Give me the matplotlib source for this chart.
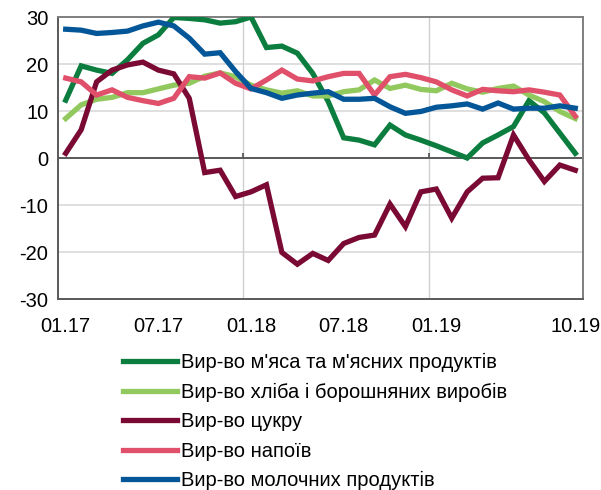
import matplotlib
matplotlib.use("Agg")
import matplotlib.pyplot as plt

plt.rcParams['font.family'] = ['Liberation Sans', 'DejaVu Sans']
plt.rcParams['axes.unicode_minus'] = False

months = ["01.17","02.17","03.17","04.17","05.17","06.17","07.17","08.17","09.17","10.17","11.17","12.17",
          "01.18","02.18","03.18","04.18","05.18","06.18","07.18","08.18","09.18","10.18","11.18","12.18",
          "01.19","02.19","03.19","04.19","05.19","06.19","07.19","08.19","09.19","10.19"]
shown_labels = ["01.17", "07.17", "01.18", "07.18", "01.19", "10.19"]

meat = [12.3, 19.6, 18.7, 18, 20.9, 24.4, 26.2, 29.9, 29.7, 29.4, 28.7, 29, 30, 23.5, 23.8, 22.3,
        18, 12, 4.3, 3.8, 2.8, 7, 4.9, 3.8, 2.6, 1.3, 0, 3.2, 4.9, 6.7, 12.2, 9.6, 5.3, 1]
bread = [8.4, 11.3, 12.5, 12.9, 13.9, 13.9, 14.7, 15.5, 15.9, 17.4, 18.1, 17.3, 15.5, 14.5, 13.8, 14.3,
         13.2, 13.2, 14.1, 14.5, 16.6, 14.8, 15.5, 14.6, 14.3, 15.9, 14.7, 14, 14.8, 15.3, 13.4, 12, 9.9, 8.4]
sugar = [1, 6, 16.2, 18.7, 19.8, 20.4, 18.7, 17.9, 12.7, -3.1, -2.6, -8.2, -7.2, -5.7, -20.1, -22.6,
         -20.3, -21.8, -18.2, -16.9, -16.4, -9.8, -14.6, -7.2, -6.6, -12.8, -7.2, -4.3, -4.2, 4.9, -0.4, -5, -1.5, -2.6]
drinks = [17, 16.2, 13.4, 14.5, 12.9, 12.2, 11.6, 12.7, 17.3, 17, 18.1, 15.9, 14.7, 16.6, 18.7, 16.8,
          16.4, 17.3, 18, 18, 13.4, 17.3, 17.8, 17.1, 16.2, 14.5, 13.2, 14.6, 14.3, 14.1, 14.5, 14, 13.4, 8.9]
dairy = [27.4, 27.2, 26.5, 26.7, 27, 28.1, 28.9, 28.1, 25.5, 22.1, 22.4, 18.4, 14.8, 13.9, 12.7, 13.4,
         13.8, 14.1, 12.5, 12.5, 12.7, 10.9, 9.5, 9.9, 10.8, 11.1, 11.5, 10.4, 11.7, 10.4, 10.6, 10.6, 11.1, 10.6]

series = [
    ("Вир-во м'яса та м'ясних продуктів", meat, "#0b7d3e"),
    ("Вир-во хліба і борошняних виробів", bread, "#92c95e"),
    ("Вир-во цукру", sugar, "#7a0a33"),
    ("Вир-во напоїв", drinks, "#e0506a"),
    ("Вир-во молочних продуктів", dairy, "#035697"),
]

FS = 14.5

fig = plt.figure(figsize=(6.01, 4.90), dpi=100)
ax = fig.add_axes([58/601, 1-299/490, (583-58)/601, (299-17)/490])

x = list(range(len(months)))
for yv in [-20, -10, 10, 20]:
    ax.axhline(yv, color="#d9d9d9", lw=1.2, zorder=0)
for m in ["01.18", "01.19"]:
    ax.axvline(months.index(m) - 0.5, color="#d0d0d0", lw=1.0, zorder=0)
    ax.vlines(months.index(m) - 0.5, 0, 1.0, color="#595959", lw=1.3, zorder=1)
ax.axhline(0, color="#595959", lw=1.4, zorder=1)

lines = []
for name, vals, col in series:
    ln, = ax.plot(x, vals, color=col, lw=3.8, solid_joinstyle="miter", label=name, zorder=3)
    lines.append(ln)

ax.set_xlim(-0.5, len(months) - 0.5)
ax.set_ylim(-30, 30)
ax.set_yticks(range(-30, 31, 10))
ax.set_xticks([months.index(m) for m in shown_labels])
ax.set_xticklabels(shown_labels)
ax.tick_params(axis="both", length=0, labelsize=FS, colors="black")
ax.tick_params(axis="x", pad=13)
ax.tick_params(axis="y", pad=7)
for s in ax.spines.values():
    s.set_color("#7f7f7f")
    s.set_linewidth(1.4)
ax.spines["bottom"].set_color("#595959")
ax.spines["left"].set_color("#595959")

fig.legend(handles=lines, loc="upper left", bbox_to_anchor=(113/601, 1 - 343/490),
           frameon=False, fontsize=FS, handlelength=2.7, handletextpad=0.2,
           labelspacing=0.52, borderpad=0)

fig.savefig("out.png", dpi=100)
